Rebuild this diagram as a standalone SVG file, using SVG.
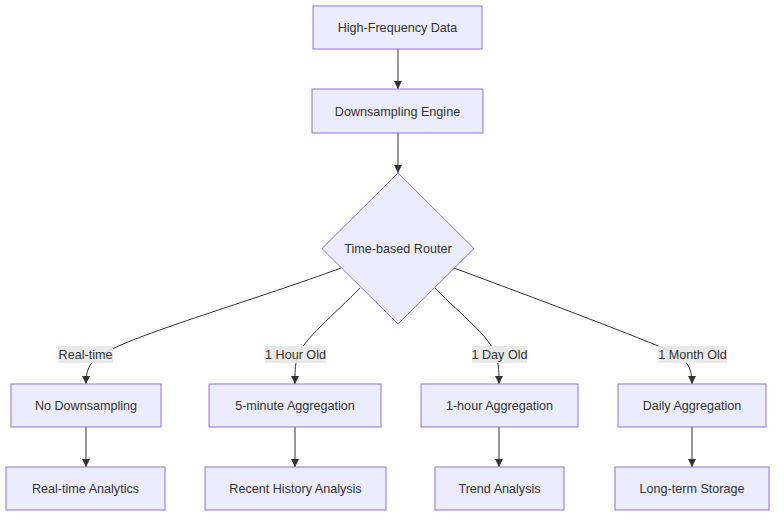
<svg xmlns="http://www.w3.org/2000/svg" width="784" height="523" viewBox="0 0 784 523">
<style>
.node rect, .node polygon { fill: #ECECFF; stroke: #9370DB; stroke-width: 1; }
.node text, .lbl text { font-family: "Liberation Sans", Arial, sans-serif; font-size: 12.6px; fill: #333; text-anchor: middle; }
.edge { fill: none; stroke: #333; stroke-width: 1; marker-end: url(#arr); }
.lbl rect { fill: #e8e8e8; opacity: 0.9; }
</style>
<defs>
<marker id="arr" viewBox="0 0 10 10" refX="10" refY="5" markerWidth="8" markerHeight="8" markerUnits="userSpaceOnUse" orient="auto">
<path d="M0,0 L10,5 L0,10 z" fill="#333"/>
</marker>
</defs>
<rect width="784" height="523" fill="#fff"/>
<g id="connectors">
<path class="edge" d="M398,49 L398,89"/>
<path class="edge" d="M398,133 L398,173"/>
<path class="edge" d="M341,268 C260,298 150,330 110,350 C92,359 86,366 86,384"/>
<path class="edge" d="M360,288 C335,314 302,340 297,358 C295,366 295,372 295,384"/>
<path class="edge" d="M435,288 C462,316 490,336 496,356 C499,366 499,372 499,384"/>
<path class="edge" d="M454,268 C540,300 620,330 668,350 C686,359 692,366 692,384"/>
<path class="edge" d="M86,427 L86,467"/>
<path class="edge" d="M295,427 L295,467"/>
<path class="edge" d="M499,427 L499,467"/>
<path class="edge" d="M692,427 L692,467"/>
</g>
<g class="lbl" id="lbl-realtime"><rect x="58" y="346" width="55" height="17"/><text x="85.5" y="359">Real-time</text></g>
<g class="lbl" id="lbl-hour"><rect x="265" y="346" width="61" height="17"/><text x="295.5" y="359">1 Hour Old</text></g>
<g class="lbl" id="lbl-day"><rect x="472" y="346" width="55" height="17"/><text x="499.5" y="359">1 Day Old</text></g>
<g class="lbl" id="lbl-month"><rect x="658" y="346" width="69" height="17"/><text x="692.5" y="359">1 Month Old</text></g>
<g class="node" id="A"><rect x="313" y="6" width="169" height="43"/><text x="397.5" y="32">High-Frequency Data</text></g>
<g class="node" id="B"><rect x="312" y="89" width="171" height="44"/><text x="397.5" y="116">Downsampling Engine</text></g>
<g class="node" id="C"><polygon points="398,173 474,248.5 398,324 322,248.5"/><text x="398" y="253">Time-based Router</text></g>
<g class="node" id="D"><rect x="11" y="384" width="150" height="43"/><text x="86" y="410">No Downsampling</text></g>
<g class="node" id="E"><rect x="209" y="384" width="172" height="43"/><text x="295" y="410">5-minute Aggregation</text></g>
<g class="node" id="F"><rect x="421" y="384" width="157" height="43"/><text x="499.5" y="410">1-hour Aggregation</text></g>
<g class="node" id="G"><rect x="618" y="384" width="148" height="43"/><text x="692" y="410">Daily Aggregation</text></g>
<g class="node" id="H"><rect x="6" y="467" width="159" height="43"/><text x="85.5" y="493">Real-time Analytics</text></g>
<g class="node" id="I"><rect x="205" y="467" width="181" height="43"/><text x="295.5" y="493">Recent History Analysis</text></g>
<g class="node" id="J"><rect x="435" y="467" width="129" height="43"/><text x="499.5" y="493">Trend Analysis</text></g>
<g class="node" id="K"><rect x="615" y="467" width="154" height="43"/><text x="692" y="493">Long-term Storage</text></g>
</svg>
